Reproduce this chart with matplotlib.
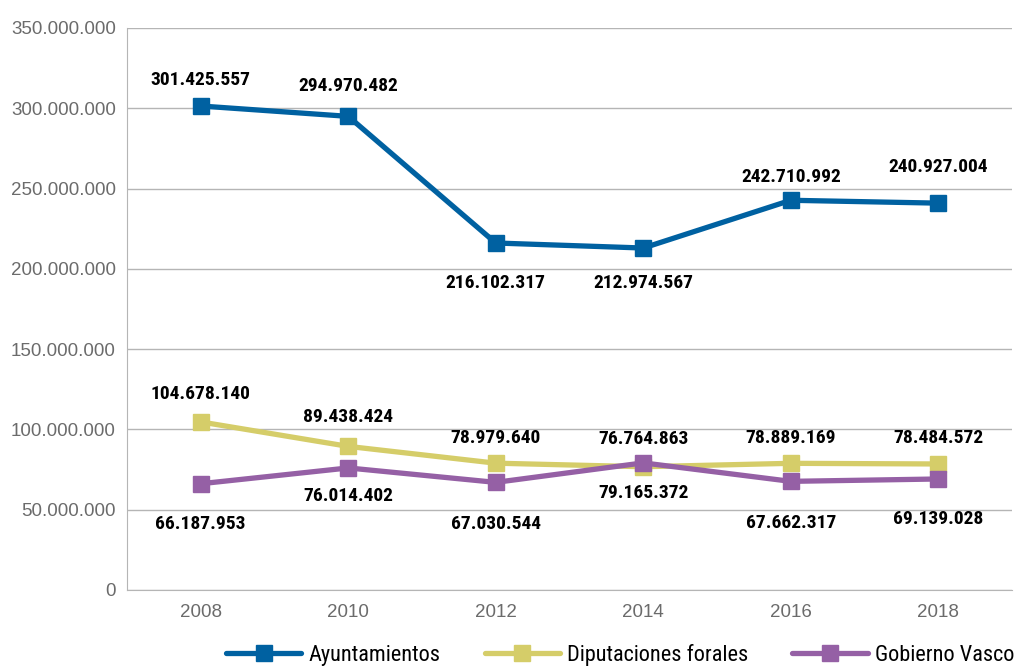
import matplotlib.pyplot as plt
from matplotlib.ticker import FuncFormatter, MultipleLocator

years = ['2008', '2010', '2012', '2014', '2016', '2018']
ayuntamientos = [301425557, 294970482, 216102317, 212974567, 242710992, 240927004]
diputaciones = [104678140, 89438424, 78979640, 76764863, 78889169, 78484572]
gobierno = [66187953, 76014402, 67030544, 79165372, 67662317, 69139028]

names = ['Ayuntamientos', 'Diputaciones forales', 'Gobierno Vasco']
colors = ['#0061a1', '#d5cd69', '#9560a5']
# label offsets in points (positive = above the marker)
label_offsets = [
    [19, 22, -29, -25, 17, 26],
    [20, 21, 18, 20, 18, 19],
    [-29, -20, -30, -22, -30, -29],
]

narrow = ['DejaVu Sans Condensed', 'Liberation Sans Narrow', 'Roboto Condensed', 'DejaVu Sans']
regular = ['Liberation Sans', 'DejaVu Sans']


def dots(v, pos=None):
    return f"{int(v):,}".replace(',', '.')


fig = plt.figure(figsize=(10.14, 6.66), dpi=100)
ax = fig.add_axes([127 / 1014, 1 - 590 / 666, 885 / 1014, 562 / 666])

x = list(range(len(years)))
for series, name, color, offs in zip([ayuntamientos, diputaciones, gobierno], names, colors, label_offsets):
    ax.plot(x, series, color=color, lw=3.8, marker='s', markersize=11.5,
            solid_capstyle='round', label=name, zorder=3)
    for xi, v, off in zip(x, series, offs):
        ax.annotate(dots(v), (xi, v), xytext=(0, off), textcoords='offset points',
                    ha='center', va='center', fontsize=14, fontweight='bold',
                    family=narrow, fontstretch='condensed', color='black', zorder=4)

ax.set_xlim(-0.5, len(years) - 0.5)
ax.set_ylim(0, 350000000)
ax.yaxis.set_major_locator(MultipleLocator(50000000))
ax.yaxis.set_major_formatter(FuncFormatter(dots))
ax.set_xticks(x)
ax.set_xticklabels(years)
ax.grid(axis='y', color='#b5b5b5', lw=1)
ax.set_axisbelow(True)
for s in ['top', 'right']:
    ax.spines[s].set_visible(False)
for s in ['left', 'bottom']:
    ax.spines[s].set_color('#b5b5b5')
ax.tick_params(length=0, labelsize=13.5, labelcolor='#6b6b6b', pad=8)
for lbl in ax.get_xticklabels() + ax.get_yticklabels():
    lbl.set_family(regular)
ax.tick_params(axis='x', pad=10)

fig.legend(loc='center', bbox_to_anchor=(620 / 1014, 1 - 655 / 666), ncol=3,
           frameon=False, prop={'family': narrow, 'size': 16, 'stretch': 'condensed'},
           handlelength=3.4, handletextpad=0.3, columnspacing=2.0)

fig.savefig('out.png', dpi=100)
